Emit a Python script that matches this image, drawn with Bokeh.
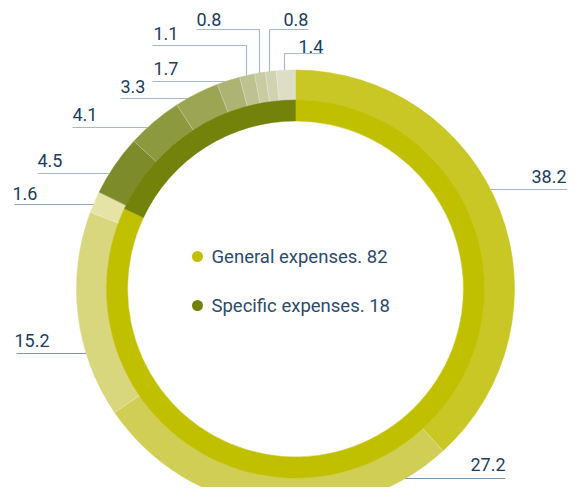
import numpy as np
from bokeh.plotting import figure
from bokeh.models import Range1d, ColumnDataSource
from bokeh.core.properties import value
from bokeh.embed import file_html
from bokeh.resources import INLINE

# ---------------- data ----------------
outer_labels = ["38.2", "27.2", "15.2", "1.6", "4.5", "4.1", "3.3", "1.7", "1.1", "0.8", "0.8", "1.4"]
outer_values = [38.2, 27.2, 15.2, 1.6, 4.5, 4.1, 3.3, 1.7, 1.1, 0.8, 0.8, 1.4]
outer_colors = ["#C9C726", "#D0CE54", "#D9D77E", "#E5E3A6",
                "#7E8B2B", "#8D993F", "#9CA553", "#ADB373",
                "#BDC290", "#C9CCA3", "#D0D3B1", "#DCDEC5"]

inner_names = ["General expenses", "Specific expenses"]
inner_values = [82, 18]
inner_colors = ["#C0C000", "#73820A"]

# ---------------- layout (screen px) ----------------
W, H = 567, 487
cx, cy = 295, 288.5    # ring centre
R_out, R_mid, R_in = 219, 189, 168

def Y(sy):
    return -sy

# label layout: text x, text centre y, align, leader y, leader far x, drop x (or None), leader colour
label_layout = [
    (566, 175.5, "right", 189, 567, None, "#A6BACA"),
    (505, 463.5, "right", 478, 505, None, "#7898B4"),
    (14, 340, "left", 353, 16, None, "#7898B4"),
    (12, 192.5, "left", 204, 14, None, "#93A9BC"),
    (37, 160, "left", 173, 37, None, "#A6BACA"),
    (72, 113.5, "left", 127, 72, None, "#A6BACA"),
    (120, 86, "left", 98, 120, None, "#A6BACA"),
    (153, 68, "left", 81, 152, None, "#A6BACA"),
    (153, 33, "left", 45, 152, 246, "#A6BACA"),
    (196, 19, "left", 29, 196, 259, "#A6BACA"),
    (283, 19, "left", 29, 308, 269, "#A6BACA"),
    (298, 46, "left", 53, 323, 284, "#A6BACA"),
]

p = figure(width=W, height=H, output_backend="svg", toolbar_location=None,
           x_range=Range1d(0, W), y_range=Range1d(-H, 0),
           min_border=0)
p.axis.visible = False
p.grid.visible = False
p.outline_line_color = None
p.background_fill_color = "white"
p.border_fill_color = "white"

def ring_angles(vals):
    vals = np.asarray(vals, dtype=float)
    c = np.concatenate([[0], np.cumsum(vals)]) / vals.sum()
    start = np.pi / 2 - 2 * np.pi * c[1:]
    end = np.pi / 2 - 2 * np.pi * c[:-1]
    return start, end, c

os_, oe_, oc = ring_angles(outer_values)
src_o = ColumnDataSource(dict(start=os_, end=oe_, color=outer_colors))
p.annular_wedge(x=cx, y=Y(cy), inner_radius=R_mid, outer_radius=R_out,
                start_angle="start", end_angle="end", fill_color="color",
                line_color="color", line_width=0.5, source=src_o)

is_, ie_, ic = ring_angles(inner_values)
src_i = ColumnDataSource(dict(start=is_, end=ie_, color=inner_colors))
p.annular_wedge(x=cx, y=Y(cy), inner_radius=R_in, outer_radius=R_mid,
                start_angle="start", end_angle="end", fill_color="color",
                line_color="color", line_width=0.5, source=src_i)

# faint separators in outer ring
bx0, by0, bx1, by1 = [], [], [], []
for f in oc[1:-1]:
    a = np.pi / 2 - 2 * np.pi * f
    bx0.append(cx + R_mid * np.cos(a)); by0.append(Y(cy) + R_mid * np.sin(a))
    bx1.append(cx + R_out * np.cos(a)); by1.append(Y(cy) + R_out * np.sin(a))
p.segment(x0=bx0, y0=by0, x1=bx1, y1=by1, line_color="white", line_alpha=0.35, line_width=0.8)

# leader lines
xs, ys, lc = [], [], []
for (tx, ty, al, ly, fx, dx, col) in label_layout:
    if dx is None:
        d = np.sqrt(R_out ** 2 - (ly - cy) ** 2)
        rx = cx + d if fx > cx else cx - d
        xs.append([fx, rx]); ys.append([Y(ly), Y(ly)])
    else:
        ry = cy - np.sqrt(R_out ** 2 - (dx - cx) ** 2)
        xs.append([fx, dx, dx]); ys.append([Y(ly), Y(ly), Y(ry)])
    lc.append(col)
p.multi_line(xs=xs, ys=ys, line_color=lc, line_width=1.2)

# labels
for lab, (tx, ty, al, ly, fx, dx, col) in zip(outer_labels, label_layout):
    p.text(x=[tx], y=[Y(ty)], text=[lab], text_align=al, text_baseline="middle",
           text_font=value("Roboto"), text_font_size="18px", text_color="#1C3C60")

# legend in the middle
leg_y = [256, 305]
leg_text = [f"{n}. {v}" for n, v in zip(inner_names, inner_values)]
p.scatter(x=[197, 197], y=[Y(v) for v in leg_y], size=11, marker="circle",
          fill_color=inner_colors, line_color=None)
p.text(x=[211, 211], y=[Y(v) for v in leg_y], text=leg_text, text_align="left",
       text_baseline="middle", text_font=value("Roboto"), text_font_size="18.5px",
       text_color="#2C4B6C")

open("out.html", "w").write(file_html(p, INLINE))
